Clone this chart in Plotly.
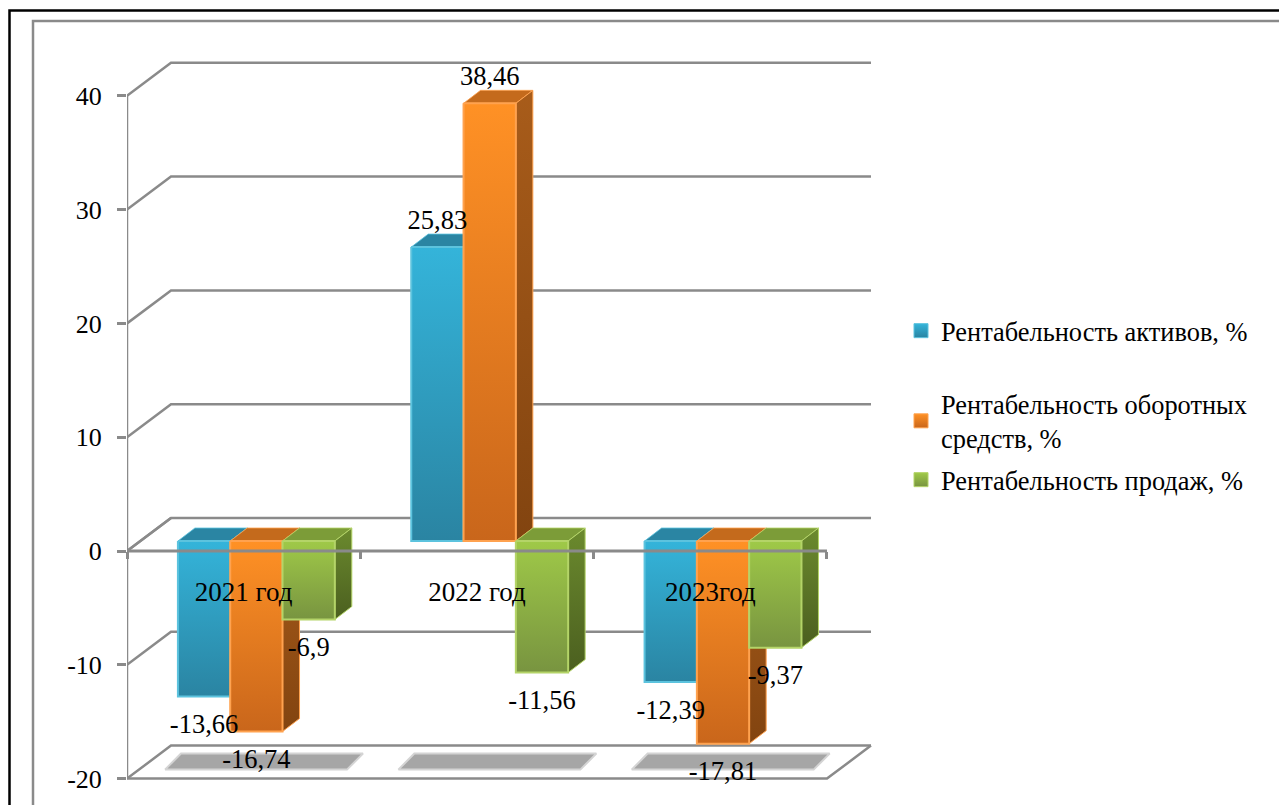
import plotly.graph_objects as go

categories = ["2021 год", "2022 год", "2023год"]
series_names = ["Рентабельность активов, %", "Рентабельность оборотных<br>средств, %", "Рентабельность продаж, %"]
assets = [-13.66, 25.83, -12.39]
working = [-16.74, 38.46, -17.81]
sales = [-6.9, -11.56, -9.37]
series_values = [assets, working, sales]
y_ticks = [-20, -10, 0, 10, 20, 30, 40]
y_tick_text = ["-20", "-10", "0", "10", "20", "30", "40"]

PX_X = 233.33
PX_Y = 11.38
FONT = "Liberation Serif"
GRID = "#8a8a8a"
WALL_DX, WALL_DY = 44 / PX_X, 33 / PX_Y
BAR_SHIFT_X, BAR_SHIFT_Y = 12.7 / PX_X, 10 / PX_Y
BAR_DX, BAR_DY = 17 / PX_X, 13 / PX_Y
BAR_W = 52.3 / PX_X
LABEL_GAP = 30 / PX_Y
LABEL_GAP_POS = 24.5 / PX_Y

styles = [
    dict(front=("#34b4da", "#2a84a2"), side=("#2a8fae", "#246f88"), top="#2a85a3", line="#5cc3de"),
    dict(front=("#ff9125", "#c9661b"), side=("#a85c1a", "#824410"), top="#c46a1c", line="#ffa24f"),
    dict(front=("#9fc948", "#789440"), side=("#6b8a2e", "#4b5f1f"), top="#7c9c38", line="#b4d468"),
]

fig = go.Figure()


def poly(xs, ys, grad=None, color=None, line=None, lw=0):
    kw = dict(fillcolor=color) if grad is None else dict(
        fillgradient=dict(type="vertical", colorscale=[[0, grad[1]], [1, grad[0]]]))
    fig.add_trace(go.Scatter(x=xs + xs[:1], y=ys + ys[:1], mode="lines", fill="toself",
                             line=dict(color=line or "rgba(0,0,0,0)", width=lw),
                             hoverinfo="skip", showlegend=False, **kw))


def gline(xs, ys, w=2.5, color=GRID):
    fig.add_trace(go.Scatter(x=xs, y=ys, mode="lines", line=dict(color=color, width=w),
                             hoverinfo="skip", showlegend=False))


# walls and floor
top_v, bottom_v = max(y_ticks), min(y_ticks)
n = len(categories)
gline([0, 0], [bottom_v, top_v])
for v in y_ticks:
    gline([0, WALL_DX, n + WALL_DX], [v, v + WALL_DY, v + WALL_DY])
gline([0, n, n + WALL_DX], [bottom_v, bottom_v, bottom_v + WALL_DY])

# floor shadows
for i in range(n):
    xl, xr = i + 38 / PX_X, i + 220 / PX_X
    yb, yt = bottom_v + 9 / PX_Y, bottom_v + 25 / PX_Y
    sk = 16 / PX_X
    poly([xl, xr, xr + sk, xl + sk], [yb, yb, yt, yt], color="#a6a6a6", line="#d4d4d4", lw=2)

# bars
label_x, label_y, label_t = [], [], []
for i in range(n):
    x0 = i + 0.5 - 1.5 * BAR_W + BAR_SHIFT_X
    for s, vals in enumerate(series_values):
        v = vals[i]
        st = styles[s]
        xa, xb = x0 + s * BAR_W, x0 + (s + 1) * BAR_W
        hi, lo = max(v, 0) + BAR_SHIFT_Y, min(v, 0) + BAR_SHIFT_Y
        poly([xa, xb, xb + BAR_DX, xa + BAR_DX], [hi, hi, hi + BAR_DY, hi + BAR_DY],
             color=st["top"], line=st["line"], lw=0.8)
        poly([xb, xb + BAR_DX, xb + BAR_DX, xb], [hi, hi + BAR_DY, lo + BAR_DY, lo],
             grad=st["side"], line=st["line"], lw=1)
        poly([xa, xb, xb, xa], [hi, hi, lo, lo], grad=st["front"], line=st["line"], lw=2)
        label_x.append((xa + xb) / 2)
        label_y.append(v + BAR_SHIFT_Y + (LABEL_GAP_POS if v > 0 else -LABEL_GAP))
        label_t.append(str(v).replace(".", ","))

# zero plane edge
gline([0, WALL_DX], [0, WALL_DY])
gline([0, n], [0, 0], w=3)

fig.add_trace(go.Scatter(x=label_x, y=label_y, text=label_t, mode="text", textposition="middle center",
                         textfont=dict(family=FONT, size=26.5, color="black"), hoverinfo="skip",
                         showlegend=False, cliponaxis=False))

# legend
legend_ids = ["legend", "legend2", "legend3"]
for s, name in enumerate(series_names):
    st = styles[s]
    fig.add_trace(go.Scatter(x=[None], y=[None], mode="markers", name=name, legend=legend_ids[s],
                             marker=dict(symbol="square", size=14, color=st["front"][0],
                                         gradient=dict(type="vertical", color=st["front"][1]),
                                         line=dict(color=st["line"], width=1))))

H, W = 805, 1279
L, R, T, B = 127, 880, 22, 805
x_range = [0, (R - L) / PX_X]
y_range = [(551 - B) / PX_Y, (551 - T) / PX_Y]
legend_common = dict(font=dict(family=FONT, size=26.4, color="black"), bgcolor="rgba(0,0,0,0)",
                     xanchor="left", yanchor="top", x=(901 - L) / (R - L), itemsizing="trace")


def ly(px):
    return (B - px) / (B - T)


fig.update_layout(
    width=W, height=H, autosize=False,
    paper_bgcolor="white", plot_bgcolor="rgba(0,0,0,0)",
    margin=dict(l=L, r=W - R, t=T, b=H - B, pad=0),
    xaxis=dict(range=x_range, domain=[0, 1], anchor="free", position=(B - 551) / (B - T),
               showgrid=False, zeroline=False, showline=False,
               tickmode="array", tickvals=[i + 0.5 for i in range(n)], ticktext=categories,
               ticks="outside", ticklen=0, ticklabelstandoff=17, tickangle=0,
               tickfont=dict(family=FONT, size=27, color="black"),
               minor=dict(ticks="outside", ticklen=7, tickwidth=2.5, tickcolor=GRID,
                          tickmode="array", tickvals=list(range(n + 1)), showgrid=False)),
    yaxis=dict(range=y_range, domain=[0, 1], anchor="x", showgrid=False, zeroline=False, showline=False,
               tickmode="array", tickvals=y_ticks, ticktext=y_tick_text,
               ticks="outside", ticklen=9, tickwidth=2.5, tickcolor=GRID,
               ticklabelstandoff=10, tickfont=dict(family=FONT, size=26, color="black")),
    legend=dict(y=ly(307), **legend_common),
    legend2=dict(y=ly(380), **legend_common),
    legend3=dict(y=ly(456), **legend_common),
    shapes=[
        dict(type="path", xref="paper", yref="paper", layer="below",
             path=f"M {(9.5 - L) / (R - L)} 0 L {(9.5 - L) / (R - L)} {ly(10.5)} L {(W - L) / (R - L)} {ly(10.5)}",
             line=dict(color="black", width=2.5)),
        dict(type="path", xref="paper", yref="paper", layer="below",
             path=f"M {(33 - L) / (R - L)} 0 L {(33 - L) / (R - L)} {ly(21)} L {(W - L) / (R - L)} {ly(21)}",
             line=dict(color="#8a8a8a", width=2.5)),
    ],
)

fig.write_html("out.html", config=dict(displayModeBar=False),
               post_script="document.body.style.margin='0';document.body.style.overflow='hidden';")
